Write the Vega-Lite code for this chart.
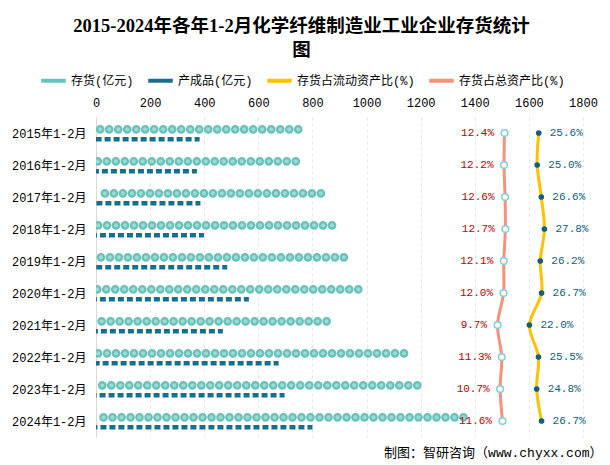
{
  "$schema": "https://vega.github.io/schema/vega-lite/v6.json",
  "autosize": "none",
  "width": 487,
  "height": 320,
  "padding": {"left": 96, "top": 117, "right": 27, "bottom": 28},
  "background": "white",
  "title": {
    "text": ["2015-2024年各年1-2月化学纤维制造业工业企业存货统计", "图"],
    "anchor": "middle",
    "dx": -38,
    "offset": 7,
    "fontSize": 18.5,
    "fontWeight": "bold",
    "font": "Liberation Serif, Noto Sans CJK SC",
    "color": "#000000",
    "lineHeight": 24
  },
  "config": {"view": {"stroke": null}},
  "data": {
    "values": [
      {"period": "2015年1-2月", "inv": 764, "fin": 383, "cur": 0.256, "tot": 0.124},
      {"period": "2016年1-2月", "inv": 755, "fin": 373, "cur": 0.250, "tot": 0.122},
      {"period": "2017年1-2月", "inv": 848, "fin": 386, "cur": 0.266, "tot": 0.126},
      {"period": "2018年1-2月", "inv": 889, "fin": 399, "cur": 0.278, "tot": 0.127},
      {"period": "2019年1-2月", "inv": 933, "fin": 485, "cur": 0.262, "tot": 0.121},
      {"period": "2020年1-2月", "inv": 986, "fin": 565, "cur": 0.267, "tot": 0.120},
      {"period": "2021年1-2月", "inv": 869, "fin": 469, "cur": 0.220, "tot": 0.097},
      {"period": "2022年1-2月", "inv": 1155, "fin": 675, "cur": 0.255, "tot": 0.113},
      {"period": "2023年1-2月", "inv": 1204, "fin": 697, "cur": 0.248, "tot": 0.107},
      {"period": "2024年1-2月", "inv": 1375, "fin": 800, "cur": 0.267, "tot": 0.116}
    ]
  },
  "encoding": {
    "y": {
      "field": "period",
      "type": "nominal",
      "sort": null,
      "scale": {"type": "point", "padding": 0.5},
      "axis": {
        "title": null,
        "ticks": false,
        "labelPadding": 10,
        "domainColor": "#d9d9d9",
        "labelFont": "Liberation Mono, Noto Sans CJK SC",
        "labelFontSize": 12,
        "labelColor": "#000000"
      }
    }
  },
  "layer": [
    {
      "layer": [
        {
          "mark": {"type": "rule", "strokeWidth": 8.7, "strokeDash": [0, 9], "strokeDashOffset": 4.5, "strokeCap": "round", "yOffset": -3.7, "clip": true},
          "encoding": {
            "x": {
              "field": "inv",
              "type": "quantitative",
              "scale": {"domain": [0, 1800], "nice": false},
              "axis": {
                "orient": "top",
                "title": null,
                "values": [0, 200, 400, 600, 800, 1000, 1200, 1400, 1600, 1800],
                "format": "d",
                "grid": true,
                "gridColor": "#e6e6e6",
                "gridDash": [3, 3],
                "domain": false,
                "ticks": false,
                "labelPadding": 8,
                "labelFont": "Liberation Mono, Noto Sans CJK SC",
                "labelFontSize": 12,
                "labelColor": "#000000",
                "labelFlush": false
              }
            },
            "x2": {"datum": 0},
            "color": {
              "datum": "存货(亿元)",
              "type": "nominal",
              "scale": {
                "domain": ["存货(亿元)", "产成品(亿元)", "存货占流动资产比(%)", "存货占总资产比(%)"],
                "range": ["#66c2ba", "#1b6d8f", "#ffc000", "#f4927c"]
              },
              "legend": {
                "orient": "none",
                "legendX": -57,
                "legendY": -51,
                "direction": "horizontal",
                "title": null,
                "symbolType": "stroke",
                "symbolSize": 600,
                "symbolStrokeWidth": 4,
                "labelFont": "Liberation Mono, Noto Sans CJK SC",
                "labelFontSize": 12,
                "labelColor": "#000000",
                "labelOffset": 3,
                "columnPadding": 6
              }
            }
          }
        },
        {
          "mark": {"type": "rule", "strokeWidth": 4.2, "strokeDash": [0, 9], "strokeDashOffset": 4.5, "strokeCap": "round", "yOffset": -3.7, "color": "#9fd9d3", "clip": true},
          "encoding": {
            "x": {"field": "inv", "type": "quantitative"},
            "x2": {"datum": 0}
          }
        },
        {
          "mark": {"type": "rule", "strokeWidth": 4.5, "strokeDash": [6, 3], "strokeDashOffset": 1, "strokeCap": "butt", "yOffset": 6.3, "clip": true},
          "encoding": {
            "x": {"field": "fin", "type": "quantitative"},
            "x2": {"datum": 0},
            "color": {"datum": "产成品(亿元)", "type": "nominal"}
          }
        }
      ]
    },
    {
      "layer": [
        {
          "mark": {"type": "line", "strokeWidth": 3, "interpolate": "catmull-rom"},
          "encoding": {
            "x": {
              "field": "tot",
              "type": "quantitative",
              "scale": {"domain": [-1.454, 0.427], "nice": false, "zero": false},
              "axis": {
                "orient": "bottom",
                "labels": false,
                "ticks": false,
                "domain": false,
                "grid": false,
                "title": "制图：智研咨询（www.chyxx.com）",
                "titleFont": "Liberation Mono, Noto Sans CJK SC",
                "titleFontSize": 13,
                "titleFontWeight": "normal",
                "titleColor": "#000000",
                "titleAnchor": "end",
                "titleAlign": "right",
                "titleBaseline": "middle",
                "titleX": 506,
                "titleY": 15
              }
            },
            "color": {"datum": "存货占总资产比(%)", "type": "nominal"}
          }
        },
        {
          "mark": {"type": "point", "filled": true, "fill": "#fffbe0", "stroke": "#7fcbee", "strokeWidth": 1.5, "size": 45, "opacity": 1},
          "encoding": {"x": {"field": "tot", "type": "quantitative"}}
        },
        {
          "mark": {"type": "text", "align": "right", "baseline": "middle", "dx": -10.5, "fontSize": 11, "font": "Liberation Mono, Noto Sans CJK SC", "color": "#c00000"},
          "encoding": {
            "x": {"field": "tot", "type": "quantitative"},
            "text": {"field": "tot", "type": "quantitative", "format": ".1%"}
          }
        },
        {
          "mark": {"type": "line", "strokeWidth": 3, "interpolate": "catmull-rom"},
          "encoding": {
            "x": {"field": "cur", "type": "quantitative"},
            "color": {"datum": "存货占流动资产比(%)", "type": "nominal"}
          }
        },
        {
          "mark": {"type": "point", "filled": true, "fill": "#135f7f", "size": 32, "opacity": 1},
          "encoding": {"x": {"field": "cur", "type": "quantitative"}}
        },
        {
          "mark": {"type": "text", "align": "left", "baseline": "middle", "dx": 11, "fontSize": 11, "font": "Liberation Mono, Noto Sans CJK SC", "color": "#0e5f7e"},
          "encoding": {
            "x": {"field": "cur", "type": "quantitative"},
            "text": {"field": "cur", "type": "quantitative", "format": ".1%"}
          }
        }
      ]
    }
  ],
  "resolve": {"scale": {"x": "independent"}, "axis": {"x": "independent"}}
}
